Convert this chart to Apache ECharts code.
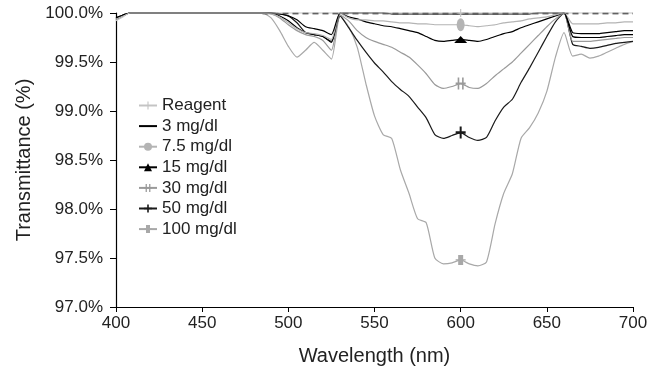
<!DOCTYPE html>
<html>
<head>
<meta charset="utf-8">
<script src="https://cdn.jsdelivr.net/npm/echarts@6/dist/echarts.min.js"></script>
<style>
  html, body { margin: 0; padding: 0; background: #fff; }
  #chart { width: 662px; height: 372px; }
</style>
</head>
<body>
<div id="chart"></div>
<script>
// wavelength grid (nm)
const wavelengths = [400, 404, 408, 485, 490, 495, 500, 505, 510, 515, 520, 525, 530,
  535, 540, 545, 550, 555, 560, 565, 570, 575, 580, 585, 590, 595, 600,
  605, 610, 615, 620, 625, 630, 635, 640, 645, 650, 655, 660,
  665, 670, 675, 680, 685, 690, 695, 700];

const reagent = [99.92, 99.96, 100, 100, 100, 100, 100, 100, 100, 100, 100, 100, 100,
  100, 100, 100, 100, 100, 100, 100, 100, 100, 100, 100, 100, 100, 100,
  100, 100, 100, 100, 100, 100, 100, 100, 100, 100, 100, 100,
  100, 100, 100, 100, 100, 100, 100, 100];
const mg3 = [99.95, 99.98, 100, 100, 100, 99.99, 99.97, 99.93, 99.86, 99.84, 99.82, 99.78, 100,
  100, 100, 100, 100, 100, 99.99, 99.99, 99.99, 99.99, 99.99, 99.99, 99.99, 99.99, 99.99,
  99.99, 99.99, 99.99, 99.99, 99.99, 99.99, 99.99, 99.99, 100, 100, 100, 100,
  99.80, 99.79, 99.79, 99.79, 99.80, 99.81, 99.82, 99.82];
const mg7_5 = [99.94, 99.97, 100, 100, 99.99, 99.96, 99.90, 99.84, 99.80, 99.79, 99.77, 99.73, 100,
  99.95, 99.93, 99.93, 99.92, 99.92, 99.91, 99.90, 99.90, 99.89, 99.89, 99.88, 99.88, 99.88, 99.88,
  99.87, 99.86, 99.87, 99.88, 99.90, 99.91, 99.92, 99.94, 99.95, 99.96, 99.98, 100,
  99.89, 99.89, 99.89, 99.89, 99.90, 99.90, 99.91, 99.91];
const mg15 = [99.94, 99.97, 100, 100, 100, 99.97, 99.92, 99.85, 99.80, 99.78, 99.76, 99.70, 100,
  99.96, 99.94, 99.91, 99.89, 99.87, 99.86, 99.84, 99.82, 99.80, 99.76, 99.72, 99.71, 99.72, 99.73,
  99.72, 99.71, 99.73, 99.76, 99.79, 99.81, 99.85, 99.88, 99.91, 99.94, 99.97, 100,
  99.76, 99.75, 99.75, 99.75, 99.76, 99.77, 99.78, 99.78];
const mg30 = [99.93, 99.97, 100, 100, 99.99, 99.95, 99.88, 99.82, 99.78, 99.76, 99.72, 99.62, 99.98,
  99.92, 99.82, 99.75, 99.71, 99.68, 99.65, 99.60, 99.55, 99.47, 99.38, 99.27, 99.23, 99.25, 99.28,
  99.24, 99.23, 99.28, 99.36, 99.43, 99.50, 99.59, 99.68, 99.77, 99.86, 99.94, 100,
  99.71, 99.71, 99.71, 99.72, 99.73, 99.74, 99.75, 99.75];
const mg50 = [99.95, 99.98, 100, 100, 100, 99.99, 99.97, 99.90, 99.80, 99.78, 99.76, 99.71, 99.97,
  99.85, 99.72, 99.60, 99.49, 99.40, 99.30, 99.22, 99.15, 99.04, 98.93, 98.76, 98.72, 98.75, 98.78,
  98.73, 98.70, 98.73, 98.90, 99.04, 99.12, 99.29, 99.44, 99.60, 99.76, 99.91, 100,
  99.68, 99.66, 99.64, 99.65, 99.67, 99.69, 99.70, 99.71];
const mg100 = [99.93, 99.97, 100, 100, 99.95, 99.82, 99.66, 99.55, 99.62, 99.70, 99.62, 99.53, 99.97,
  99.86, 99.65, 99.28, 98.95, 98.76, 98.72, 98.40, 98.16, 97.90, 97.86, 97.50, 97.44, 97.45, 97.48,
  97.44, 97.42, 97.46, 97.85, 98.16, 98.36, 98.72, 98.83, 98.98, 99.20, 99.55, 99.80,
  99.56, 99.58, 99.54, 99.56, 99.60, 99.64, 99.68, 99.71];

const seriesNames = ["Reagent", "3 mg/dl", "7.5 mg/dl", "15 mg/dl", "30 mg/dl", "50 mg/dl", "100 mg/dl"];
const yTicks = [97.0, 97.5, 98.0, 98.5, 99.0, 99.5, 100.0];
const markerAt = 600;
const dashStart = 485;

const plusPath = "path://M4,0h2v4h4v2h-4v4h-2v-4h-4v-2h4z";
const dblCrossPath = "path://M2,0h1.6v10h-1.6z M6.4,0h1.6v10h-1.6z M0,4.2h10v1.6h-10z";
const tickPath = "path://M4.3,0h1.4v10h-1.4z M0,4.4h10v1.2h-10z";
const barPath = "path://M2.5,0h5v10h-5z M0,4.4h10v1.2h-10z";

const styles = [
  { color: "#c4c4c4", symbol: tickPath, size: [8, 8] },
  { color: "#000000", symbol: "circle", size: [0, 0], marker: "rgba(0,0,0,0)" },
  { color: "#b4b4b4", symbol: "circle", size: [8, 13] },
  { color: "#000000", symbol: "triangle", size: [13, 7] },
  { color: "#9a9a9a", symbol: dblCrossPath, size: [10, 12] },
  { color: "#1a1a1a", symbol: plusPath, size: [10, 12] },
  { color: "#a8a8a8", symbol: barPath, size: [10, 10] },
];
const values = [reagent, mg3, mg7_5, mg15, mg30, mg50, mg100];

const font = "'Liberation Sans', Arial, sans-serif";
const chart = echarts.init(document.getElementById("chart"));

const series = values.map((vals, i) => {
  const st = styles[i];
  const s = {
    name: seriesNames[i],
    type: "line",
    data: wavelengths.map((w, k) => [w, vals[k]]),
    symbol: st.symbol,
    symbolSize: (v) => (v[0] === markerAt ? st.size : 0),
    showSymbol: true,
    smooth: 0.2,
    clip: false,
    z: 10 - i,
    lineStyle: { color: st.color, width: 1.2 },
    itemStyle: { color: st.marker || st.color },
    emphasis: { disabled: true },
    animation: false,
  };
  if (i === 0) {
    s.markLine = {
      silent: true,
      symbol: "none",
      label: { show: false },
      lineStyle: { color: "#000", type: [6, 4], width: 1.3 },
      data: [[{ coord: [dashStart, 100] }, { coord: [700, 100] }]],
    };
  }
  return s;
});

chart.setOption({
  animation: false,
  textStyle: { fontFamily: font, color: "#222" },
  grid: { left: 116, right: 29, top: 13, bottom: 65 },
  legend: {
    orient: "vertical",
    left: 133,
    top: 92,
    itemWidth: 18,
    itemHeight: 10,
    itemGap: 3.6,
    textStyle: { fontSize: 17, lineHeight: 17, color: "#222", fontFamily: font },
    data: seriesNames,
  },
  xAxis: {
    type: "value",
    min: 400,
    max: 700,
    interval: 50,
    name: "Wavelength (nm)",
    nameLocation: "middle",
    nameGap: 39,
    nameTextStyle: { fontSize: 20, color: "#222", fontFamily: font },
    axisLine: { lineStyle: { color: "#000", width: 1.2 } },
    axisTick: { length: 5, lineStyle: { color: "#000" } },
    axisLabel: { fontSize: 17, color: "#222", margin: 8 },
    splitLine: { show: false },
  },
  yAxis: {
    type: "value",
    min: yTicks[0],
    max: yTicks[yTicks.length - 1],
    interval: 0.5,
    name: "Transmittance (%)",
    nameLocation: "middle",
    nameGap: 78,
    nameTextStyle: { fontSize: 20, color: "#222", fontFamily: font },
    axisLine: { show: true, lineStyle: { color: "#000", width: 1.2 } },
    axisTick: { show: true, length: 6, lineStyle: { color: "#000" } },
    axisLabel: { fontSize: 17, color: "#222", margin: 13, formatter: (v) => v.toFixed(1) + "%" },
    splitLine: { show: false },
  },
  series: series,
});
</script>
</body>
</html>
